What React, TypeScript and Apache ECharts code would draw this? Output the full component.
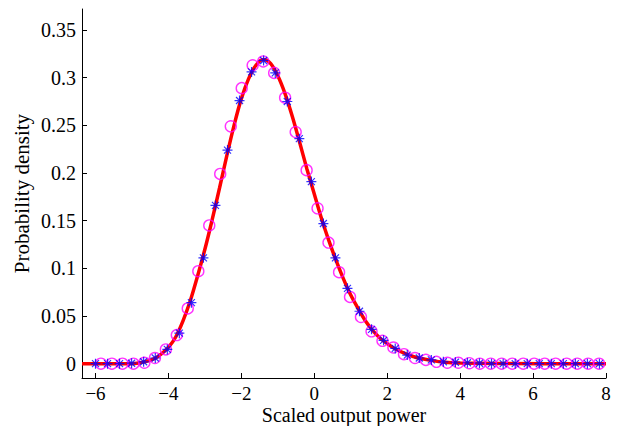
import React, { useEffect, useRef } from "react";
import * as echarts from "echarts";

// Theoretical density curve (red)
const curveX = [-6.37, -5.0, -4.7, -4.4, -4.2, -4.0, -3.8, -3.6, -3.4, -3.2, -3.0, -2.8, -2.6, -2.4, -2.2, -2.0, -1.8, -1.6, -1.4, -1.2, -1.0, -0.8, -0.6, -0.4, -0.2, 0.0, 0.2, 0.4, 0.6, 0.8, 1.0, 1.2, 1.4, 1.6, 1.8, 2.0, 2.2, 2.5, 2.8, 3.2, 3.6, 4.0, 5.0, 8.0];
const curveY = [0, 0, 0.0015, 0.005, 0.01, 0.017, 0.028, 0.045, 0.066, 0.092, 0.12, 0.151, 0.184, 0.218, 0.25, 0.278, 0.299, 0.313, 0.319, 0.315, 0.302, 0.283, 0.259, 0.232, 0.204, 0.178, 0.152, 0.129, 0.108, 0.089, 0.072, 0.058, 0.045, 0.035, 0.027, 0.021, 0.016, 0.0105, 0.0065, 0.0035, 0.0015, 0.0008, 0.0002, 0];

// Blue star markers
const starX = [-6.0, -5.67, -5.34, -5.01, -4.68, -4.36, -4.03, -3.70, -3.37, -3.04, -2.71, -2.38, -2.05, -1.72, -1.39, -1.07, -0.74, -0.41, -0.08, 0.25, 0.58, 0.91, 1.24, 1.57, 1.90, 2.22, 2.55, 2.88, 3.21, 3.54, 3.87, 4.20, 4.53, 4.86, 5.18, 5.51, 5.84, 6.17, 6.50, 6.83, 7.16, 7.49, 7.82];
const starY = [0, 0, 0, 0.0005, 0.002, 0.006, 0.015, 0.032, 0.064, 0.111, 0.166, 0.224, 0.276, 0.306, 0.318, 0.305, 0.275, 0.236, 0.191, 0.147, 0.111, 0.079, 0.055, 0.036, 0.0245, 0.016, 0.009, 0.006, 0.004, 0.002, 0.0015, 0.001, 0.0005, 0, 0, 0, 0, 0, 0, 0, 0, 0, 0];

// Magenta circle markers
const circX = [-5.85, -5.55, -5.26, -4.96, -4.66, -4.37, -4.07, -3.77, -3.47, -3.18, -2.88, -2.58, -2.29, -1.99, -1.69, -1.40, -1.10, -0.80, -0.51, -0.21, 0.09, 0.39, 0.68, 0.98, 1.28, 1.57, 1.87, 2.17, 2.46, 2.76, 3.06, 3.35, 3.65, 3.95, 4.25, 4.54, 4.84, 5.14, 5.43, 5.73, 6.03, 6.32, 6.62, 6.92, 7.21, 7.51, 7.81];
const circY = [0, 0, 0, 0, 0.001, 0.006, 0.015, 0.030, 0.058, 0.097, 0.145, 0.199, 0.249, 0.289, 0.313, 0.317, 0.305, 0.279, 0.243, 0.203, 0.163, 0.127, 0.096, 0.070, 0.049, 0.034, 0.024, 0.017, 0.010, 0.006, 0.004, 0.002, 0.001, 0.001, 0.0005, 0, 0, 0, 0, 0, 0, 0, 0, 0, 0, 0, 0];

const xTicks = [-6, -4, -2, 0, 2, 4, 6, 8];
const yTicks = [0, 0.05, 0.1, 0.15, 0.2, 0.25, 0.3, 0.35];

const xTitle = "Scaled output power";
const yTitle = "Probability density";

const FONT = "Liberation Serif";

export default function App() {
  const ref = useRef<HTMLDivElement>(null);
  useEffect(() => {
    if (!ref.current) return;
    const chart = echarts.init(ref.current, undefined, { renderer: "svg" });
    const zip = (xs: number[], ys: number[]) => xs.map((x, i) => [x, ys[i]]);
    const starPath = "path://M0,-10L0,10M-10,0L10,0M-7,-7L7,7M-7,7L7,-7";
    chart.setOption({
      animation: false,
      backgroundColor: "#ffffff",
      grid: { left: 82, right: 14, top: 9, bottom: 48, containLabel: false, outerBoundsMode: "none" },
      xAxis: {
        type: "value",
        min: -6.37,
        max: 8,
        name: xTitle,
        nameLocation: "middle",
        nameGap: 27,
        nameMoveOverlap: false,
        nameTextStyle: { fontFamily: FONT, fontSize: 20, color: "#000", lineHeight: 19 },
        axisLine: { show: true, onZero: false, lineStyle: { color: "#000", width: 1 } },
        axisTick: { show: true, inside: true, length: 5, customValues: xTicks, lineStyle: { color: "#000" } },
        axisLabel: {
          customValues: xTicks,
          fontFamily: FONT,
          fontSize: 19,
          lineHeight: 16,
          color: "#000",
          margin: 7,
          formatter: (v: number) => (v < 0 ? "\u2212" + Math.abs(v) : String(v)),
        },
        splitLine: { show: false },
      },
      yAxis: {
        type: "value",
        min: -0.015,
        max: 0.372,
        name: yTitle,
        nameLocation: "middle",
        nameGap: 50,
        nameMoveOverlap: false,
        nameTextStyle: { fontFamily: FONT, fontSize: 21, color: "#000" },
        axisLine: { show: true, onZero: false, lineStyle: { color: "#000", width: 1 } },
        axisTick: { show: true, inside: true, length: 5, customValues: yTicks, lineStyle: { color: "#000" } },
        axisLabel: {
          customValues: yTicks,
          fontFamily: FONT,
          fontSize: 20,
          color: "#000",
          margin: 6,
        },
        splitLine: { show: false },
      },
      series: [
        {
          type: "line",
          data: zip(curveX, curveY),
          smooth: 0.3,
          showSymbol: false,
          symbol: "none",
          lineStyle: { color: "#ff0000", width: 3.5 },
          z: 2,
        },
        {
          type: "scatter",
          data: zip(circX, circY),
          symbol: "circle",
          symbolSize: 11,
          itemStyle: { color: "rgba(0,0,0,0)", borderColor: "#ff00ff", borderWidth: 1.4 },
          z: 3,
        },
        {
          type: "scatter",
          data: zip(starX, starY),
          symbol: starPath,
          symbolSize: 10,
          itemStyle: { color: "rgba(0,0,0,0)", borderColor: "#0000ff", borderWidth: 1.2 },
          z: 4,
        },
      ],
    });
    return () => chart.dispose();
  }, []);
  return <div ref={ref} style={{ position: "fixed", left: 0, top: 0, width: 620, height: 426 }} />;
}
